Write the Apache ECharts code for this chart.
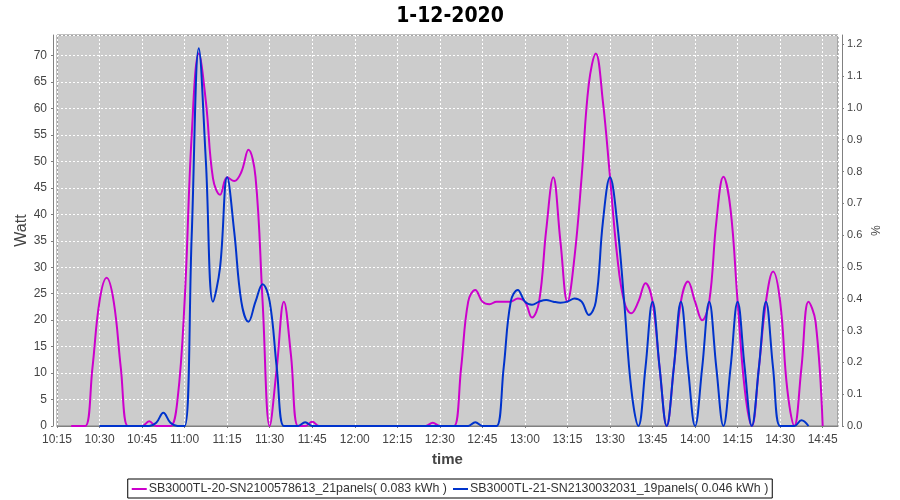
<!DOCTYPE html>
<html>
<head>
<meta charset="utf-8">
<script src="https://cdn.jsdelivr.net/npm/echarts@6/dist/echarts.min.js"></script>
<style>
html,body{margin:0;padding:0;background:#fff;}
#chart{width:900px;height:500px;}
</style>
</head>
<body>
<div id="chart"></div>
<script>
// ---- data ----
var titleText = '1-12-2020';
var seriesNames = [
  'SB3000TL-20-SN2100578613_21panels( 0.083 kWh )',
  'SB3000TL-21-SN2130032031_19panels( 0.046 kWh )'
];
var times = [
  '10:20:00','10:22:30','10:25:00','10:27:30','10:30:00','10:32:30','10:35:00','10:37:30',
  '10:40:00','10:42:30','10:45:00','10:47:30','10:50:00','10:52:30','10:55:00','10:57:30',
  '11:00:00','11:02:30','11:05:00','11:07:30','11:10:00','11:12:30','11:15:00','11:17:30',
  '11:20:00','11:22:30','11:25:00','11:27:30','11:30:00','11:32:30','11:35:00','11:37:30',
  '11:40:00','11:42:30','11:45:00','11:47:30','11:50:00','11:52:30','11:55:00','11:57:30',
  '12:00:00','12:02:30','12:05:00','12:07:30','12:10:00','12:12:30','12:15:00','12:17:30',
  '12:20:00','12:22:30','12:25:00','12:27:30','12:30:00','12:32:30','12:35:00','12:37:30',
  '12:40:00','12:42:30','12:45:00','12:47:30','12:50:00','12:52:30','12:55:00','12:57:30',
  '13:00:00','13:02:30','13:05:00','13:07:30','13:10:00','13:12:30','13:15:00','13:17:30',
  '13:20:00','13:22:30','13:25:00','13:27:30','13:30:00','13:32:30','13:35:00','13:37:30',
  '13:40:00','13:42:30','13:45:00','13:47:30','13:50:00','13:52:30','13:55:00','13:57:30',
  '14:00:00','14:02:30','14:05:00','14:07:30','14:10:00','14:12:30','14:15:00','14:17:30',
  '14:20:00','14:22:30','14:25:00','14:27:30','14:30:00','14:32:30','14:35:00','14:37:30',
  '14:40:00','14:42:30','14:45:00'
];
var wattSB20 = [
  0, 0, 0, 11, 23.6, 28, 23.5, 11,
  0, 0, 0, 0.9, 0, 0, 0, 5,
  23.6, 55, 70.4, 61.3, 46.8, 43.7, 47, 46.3,
  48, 52.2, 47.1, 23.5, 0, 11, 23.5, 13.4,
  0, 0, 0.8, 0, 0, 0, 0, 0,
  0, 0, 0, 0, 0, 0, 0, 0,
  0, 0, 0, 0.6, 0, 0, 0, 11,
  23.5, 25.7, 23.5, 23, 23.5, 23.5, 23.5, 24.1,
  23.5, 20.5, 23.5, 37, 47, 35, 23.5, 32,
  47.1, 64.5, 70.4, 61.3, 47.1, 32.3, 23.5, 21.3,
  23.5, 27, 23.5, 11, 0, 11, 23.5, 27.3,
  23.5, 20, 23.5, 38.6, 47.1, 41, 23.5, 7,
  0, 11, 23.5, 29.2, 23.5, 7, 0, 11,
  23.5, 19.7, 0
];
var wattSB21 = [
  null, null, null, null, 0, 0, 0, 0,
  0, 0, 0, 0, 0.6, 2.5, 0.6, 0,
  0, 36, 71.4, 50, 23.5, 30, 47, 36.7,
  23.5, 19.7, 23.5, 26.8, 23.5, 11, 0, 0,
  0, 0.7, 0, 0, 0, 0, 0, 0,
  0, 0, 0, 0, 0, 0, 0, 0,
  0, 0, 0, 0, 0, 0, 0, 0,
  0, 0.7, 0, 0, 0, 11, 23.5, 25.7,
  23.5, 22.9, 23.5, 23.8, 23.5, 23.3, 23.5, 24.1,
  23.5, 21, 23.5, 38.6, 47, 38.6, 23.5, 7,
  0, 11, 23.5, 11, 0, 11, 23.5, 11,
  0, 11, 23.5, 11, 0, 11, 23.5, 11,
  0, 11, 23.5, 11, 0, 0, 0, 1.1,
  0, null, null
];

function toMin(s) {
  var p = s.split(':');
  return (+p[0]) * 60 + (+p[1]) + (+p[2]) / 60;
}
function pairs(vals) {
  return times.map(function (t, i) { return [toMin(t), vals[i]]; });
}
function fmtTime(v) {
  var h = Math.floor(v / 60), m = Math.round(v - h * 60);
  return h + ':' + (m < 10 ? '0' + m : m);
}

var FONT = 'Liberation Sans';
var chart = echarts.init(document.getElementById('chart'), null, {renderer: 'canvas'});
chart.setOption({
  animation: false,
  backgroundColor: '#ffffff',
  title: {
    text: titleText, left: 'center', top: 1,
    textStyle: {fontFamily: "'DejaVu Sans Condensed', 'Liberation Sans Narrow', 'Liberation Sans', sans-serif",
      fontWeight: 'bold', fontSize: 21, color: '#000'}
  },
  grid: {
    left: 57, right: 62, top: 35, bottom: 74,
    show: true, backgroundColor: '#cccccc', borderColor: '#808080', borderWidth: 1
  },
  legend: {
    bottom: 2, left: 'center',
    borderColor: '#000', borderWidth: 1, borderRadius: 0,
    padding: [4, 4, 3, 4], itemGap: 6,
    icon: 'rect', itemWidth: 15, itemHeight: 2,
    textStyle: {fontFamily: FONT, fontSize: 12.4, color: '#333', padding: [0, 0, 0, -3]},
    data: seriesNames
  },
  xAxis: {
    type: 'value', min: 615, max: 890.4, interval: 15,
    offset: 4,
    name: 'time', nameLocation: 'middle', nameGap: 22, nameMoveOverlap: false,
    nameTextStyle: {fontFamily: FONT, fontWeight: 'bold', fontSize: 15, color: '#444'},
    axisLine: {show: true, lineStyle: {color: '#808080'}},
    axisTick: {show: true, length: 2, lineStyle: {color: '#808080'}},
    axisLabel: {
      margin: 4, fontFamily: FONT, fontSize: 12, color: '#444', showMaxLabel: false,
      formatter: function (v) { return (Math.abs(v % 15) < 0.01) ? fmtTime(v) : ''; }
    },
    splitLine: {show: true, lineStyle: {color: '#ffffff', type: [2, 2], width: 1}}
  },
  yAxis: [{
    type: 'value', min: 0, max: 73.9, interval: 5,
    position: 'left', offset: 4,
    name: 'Watt', nameLocation: 'middle', nameGap: 23, nameMoveOverlap: false,
    nameTextStyle: {fontFamily: FONT, fontSize: 16, color: '#444'},
    axisLine: {show: true, lineStyle: {color: '#808080'}},
    axisTick: {show: true, length: 2, lineStyle: {color: '#808080'}},
    axisLabel: {margin: 6, fontFamily: FONT, fontSize: 12, color: '#444', showMaxLabel: false},
    splitLine: {show: true, lineStyle: {color: '#ffffff', type: [2, 2], width: 1}}
  }, {
    type: 'value', min: 0, max: 1.229, interval: 0.1,
    position: 'right', offset: 4,
    name: '%', nameLocation: 'middle', nameGap: 26, nameRotate: -90, nameMoveOverlap: false,
    nameTextStyle: {fontFamily: FONT, fontSize: 12, color: '#444'},
    axisLine: {show: true, lineStyle: {color: '#808080'}},
    axisTick: {show: true, length: 2, lineStyle: {color: '#808080'}},
    axisLabel: {
      margin: 5, fontFamily: FONT, fontSize: 11, color: '#444', showMaxLabel: false,
      formatter: function (v) { return v.toFixed(1); }
    },
    splitLine: {show: false}
  }],
  series: [{
    name: seriesNames[0], type: 'line', yAxisIndex: 0,
    data: pairs(wattSB20), smooth: 0.4, showSymbol: false,
    lineStyle: {color: '#cc00cc', width: 2}, itemStyle: {color: '#cc00cc'}
  }, {
    name: seriesNames[1], type: 'line', yAxisIndex: 0,
    data: pairs(wattSB21), smooth: 0.4, showSymbol: false,
    lineStyle: {color: '#0033cc', width: 2}, itemStyle: {color: '#0033cc'}
  }]
});
</script>
</body>
</html>
